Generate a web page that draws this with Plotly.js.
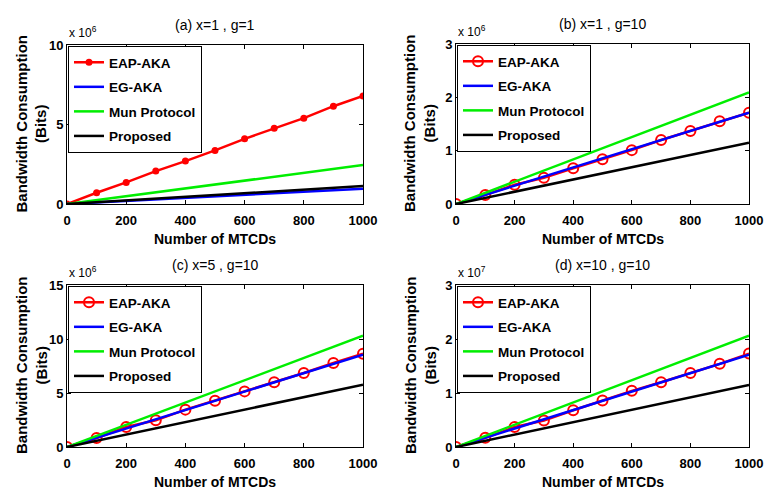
<!DOCTYPE html>
<html>
<head>
<meta charset="utf-8">
<script src="https://cdn.plot.ly/plotly-3.0.1.min.js"></script>
<style>html,body{margin:0;padding:0;background:#fff;}#chart{width:765px;height:494px;}</style>
</head>
<body>
<div id="chart"></div>
<script>
// Number of MTCDs
const mtcds = [0, 100, 200, 300, 400, 500, 600, 700, 800, 900, 1000];
const seriesNames = ["EAP-AKA", "EG-AKA", "Mun Protocol", "Proposed"];
const panelTitles = ["(a) x=1 , g=1", "(b) x=1 , g=10", "(c) x=5 , g=10", "(d) x=10 , g=10"];
const exponents = [6, 6, 6, 7];
const xTicks = [0, 200, 400, 600, 800, 1000];
const yTicksA = [0, 5, 10];
const yTicksB = [0, 1, 2, 3];
const yTicksC = [0, 5, 10, 15];
const yTicksD = [0, 1, 2, 3];

// (a) x=1, g=1   (values in 10^6 bits)
const eapA = [0, 0.71, 1.36, 2.07, 2.70, 3.37, 4.10, 4.77, 5.40, 6.15, 6.80];
const egA = [0, 0.10, 0.19, 0.29, 0.38, 0.48, 0.58, 0.67, 0.77, 0.86, 0.96];
const munA = [0, 0.25, 0.49, 0.74, 0.98, 1.23, 1.47, 1.72, 1.96, 2.21, 2.45];
const propA = [0, 0.11, 0.23, 0.34, 0.45, 0.57, 0.68, 0.79, 0.90, 1.02, 1.13];

// (b) x=1, g=10  (values in 10^6 bits)
const eapB = [0, 0.17, 0.36, 0.49, 0.67, 0.84, 1.01, 1.20, 1.37, 1.55, 1.71];
const egB = [0, 0.17, 0.34, 0.51, 0.68, 0.86, 1.03, 1.20, 1.37, 1.54, 1.71];
const munB = [0, 0.21, 0.42, 0.63, 0.84, 1.05, 1.25, 1.46, 1.67, 1.88, 2.09];
const propB = [0, 0.115, 0.23, 0.345, 0.46, 0.575, 0.69, 0.805, 0.92, 1.035, 1.15];

// (c) x=5, g=10  (values in 10^6 bits)
const eapC = [0, 0.83, 1.85, 2.47, 3.46, 4.29, 5.15, 5.99, 6.85, 7.78, 8.64];
const egC = [0, 0.86, 1.71, 2.57, 3.42, 4.28, 5.13, 5.99, 6.84, 7.70, 8.55];
const munC = [0, 1.03, 2.06, 3.09, 4.12, 5.15, 6.18, 7.21, 8.24, 9.27, 10.3];
const propC = [0, 0.58, 1.15, 1.73, 2.31, 2.89, 3.46, 4.04, 4.62, 5.19, 5.77];

// (d) x=10, g=10 (values in 10^7 bits)
const eapD = [0, 0.17, 0.37, 0.49, 0.68, 0.86, 1.04, 1.20, 1.37, 1.54, 1.73];
const egD = [0, 0.17, 0.34, 0.51, 0.68, 0.86, 1.03, 1.20, 1.37, 1.54, 1.71];
const munD = [0, 0.206, 0.41, 0.62, 0.82, 1.03, 1.24, 1.44, 1.65, 1.85, 2.06];
const propD = [0, 0.115, 0.23, 0.345, 0.46, 0.575, 0.69, 0.805, 0.92, 1.035, 1.15];

const W = 765, H = 494;
const FONT = "Liberation Sans, Arial, sans-serif";
const colors = ["#ff0000", "#0000ff", "#00ee00", "#000000"];

// plot-area boxes in pixels [left, right, top, bottom]
const boxes = [[67, 363, 45, 204], [456, 749, 44, 204], [67, 363, 285, 447], [456, 749, 285, 447]];
const panelData = [[eapA, egA, munA, propA], [eapB, egB, munB, propB], [eapC, egC, munC, propC], [eapD, egD, munD, propD]];
const yTicks = [yTicksA, yTicksB, yTicksC, yTicksD];

const traces = [];
const layout = {
  width: W, height: H,
  margin: {l: 0, r: 0, t: 0, b: 0},
  paper_bgcolor: "#fff", plot_bgcolor: "#fff",
  font: {family: FONT, color: "#000"},
  showlegend: true,
  annotations: []
};

panelData.forEach((series, p) => {
  const suf = p === 0 ? "" : String(p + 1);
  const legName = "legend" + suf;
  series.forEach((vals, s) => {
    const t = {
      x: mtcds, y: vals, name: seriesNames[s], type: "scatter",
      xaxis: "x" + suf, yaxis: "y" + suf,
      legend: legName, legendgroup: "g" + p + "_" + s,
      line: {color: colors[s], width: 2.5},
      mode: "lines"
    };
    if (s === 0) {
      t.mode = "lines+markers";
      if (p === 0) {
        t.marker = {symbol: "circle", size: 7, color: colors[0]};
      } else {
        t.marker = {symbol: "circle-open", size: 10, color: colors[0], line: {width: 2, color: colors[0]}};
      }
    }
    traces.push(t);
  });
  const b = boxes[p];
  const yt = yTicks[p];
  layout["xaxis" + suf] = {
    domain: [b[0] / W, b[1] / W], anchor: "y" + suf,
    range: [0, 1000], tickvals: xTicks, ticktext: xTicks.map(String),
    ticks: "inside", ticklen: 4, tickcolor: "#000", mirror: "ticks",
    showline: true, linecolor: "#000", linewidth: 1, showgrid: false, zeroline: false,
    tickfont: {family: FONT, size: 13, color: "#000", weight: "bold"},
    ticklabelstandoff: 4, fixedrange: true
  };
  layout["yaxis" + suf] = {
    domain: [1 - b[3] / H, 1 - b[2] / H], anchor: "x" + suf,
    range: [0, yt[yt.length - 1]], tickvals: yt, ticktext: yt.map(String),
    ticks: "inside", ticklen: 4, tickcolor: "#000", mirror: "ticks",
    showline: true, linecolor: "#000", linewidth: 1, showgrid: false, zeroline: false,
    tickfont: {family: FONT, size: 13, color: "#000", weight: "bold"},
    fixedrange: true
  };
  layout[legName] = {
    x: (b[0] + 1) / W, y: 1 - (b[2] + 1) / H, xanchor: "left", yanchor: "top",
    xref: "paper", yref: "paper",
    bgcolor: "#fff", bordercolor: "#000", borderwidth: 1,
    font: {family: FONT, size: 13.5, color: "#000", weight: "bold"},
    tracegroupgap: 4, traceorder: "grouped", itemwidth: 30
  };
  const cx = (b[0] + b[1]) / 2, cy = (b[2] + b[3]) / 2;
  // panel title
  layout.annotations.push({
    text: panelTitles[p], xref: "paper", yref: "paper",
    x: cx / W, y: 1 - (b[2] - 20) / H, xanchor: "center", yanchor: "middle",
    showarrow: false, font: {family: FONT, size: 14, color: "#000"}
  });
  // exponent
  layout.annotations.push({
    text: "x 10<sup>" + exponents[p] + "</sup>", xref: "paper", yref: "paper",
    x: (b[0]) / W, y: 1 - (b[2] - 13) / H, xanchor: "left", yanchor: "middle",
    showarrow: false, font: {family: FONT, size: 12, color: "#000"}
  });
  // x title
  layout.annotations.push({
    text: "Number of MTCDs", xref: "paper", yref: "paper",
    x: cx / W, y: 1 - (b[3] + 35) / H, xanchor: "center", yanchor: "middle",
    showarrow: false, font: {family: FONT, size: 14, color: "#000", weight: "bold"}
  });
  // y title
  layout.annotations.push({
    text: "Bandwidth Consumption<br>(Bits)", xref: "paper", yref: "paper",
    x: (b[0] - 36) / W, y: 1 - cy / H, xanchor: "center", yanchor: "middle",
    textangle: -90, showarrow: false,
    font: {family: FONT, size: 15, color: "#000", weight: "bold"}
  });
});

Plotly.newPlot("chart", traces, layout, {displayModeBar: false, staticPlot: true});
</script>
</body>
</html>
